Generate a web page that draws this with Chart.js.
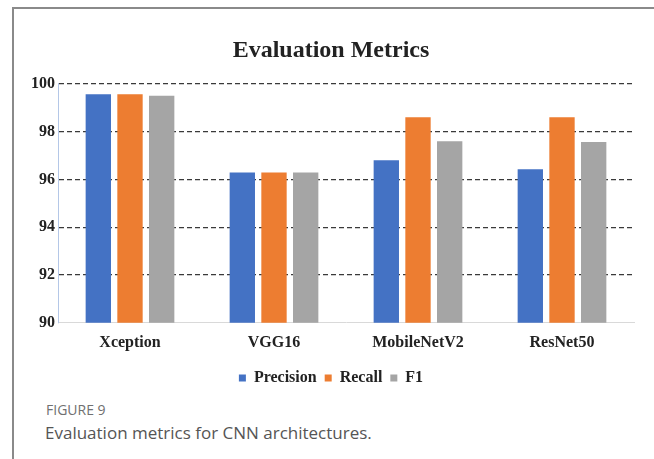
<!DOCTYPE html>
<html lang="en">
<head>
    <meta charset="UTF-8">
    <title>Evaluation Metrics</title>
    <script src="https://cdn.jsdelivr.net/npm/chart.js"></script>
    <style>
        body {
            margin: 0;
            padding: 0;
            background: #fff;
            width: 654px;
            height: 459px;
            overflow: hidden;
            position: relative;
        }
        .frame {
            position: absolute;
            left: 12px;
            top: 7px;
            width: 660px;
            height: 460px;
            border-left: 2px solid #8a8a8a;
            border-top: 2px solid #8a8a8a;
        }
        #metricsChart {
            position: absolute;
            left: 14px;
            top: 10px;
        }
        .fig-label {
            position: absolute;
            left: 46px;
            top: 403px;
            font-family: "Open Sans", sans-serif;
            font-size: 14px;
            line-height: 14px;
            color: #707070;
        }
        .fig-caption {
            position: absolute;
            left: 45px;
            top: 424px;
            font-family: "Open Sans", sans-serif;
            font-size: 17px;
            line-height: 17px;
            color: #555;
        }
    </style>
</head>
<body>
    <div class="frame"></div>
    <canvas id="metricsChart" width="640" height="386"></canvas>
    <div class="fig-label">FIGURE 9</div>
    <div class="fig-caption">Evaluation metrics for CNN architectures.</div>

    <script>
        const models = ['Xception', 'VGG16', 'MobileNetV2', 'ResNet50'];
        const precision = [99.56, 96.29, 96.8, 96.42];
        const recall = [99.56, 96.29, 98.6, 98.6];
        const f1 = [99.5, 96.29, 97.6, 97.56];

        const serif = "'Liberation Serif', 'Times New Roman', serif";

        const ctx = document.getElementById('metricsChart').getContext('2d');
        new Chart(ctx, {
            type: 'bar',
            data: {
                labels: models,
                datasets: [
                    { label: 'Precision', data: precision, backgroundColor: '#4472C4' },
                    { label: 'Recall', data: recall, backgroundColor: '#ED7D31' },
                    { label: 'F1', data: f1, backgroundColor: '#A5A5A5' }
                ]
            },
            options: {
                responsive: false,
                animation: false,
                categoryPercentage: 0.66,
                barPercentage: 0.8,
                layout: {
                    padding: { left: 14, right: 20, top: 0, bottom: 0 }
                },
                plugins: {
                    title: {
                        display: true,
                        text: 'Evaluation Metrics',
                        color: '#222',
                        font: { family: serif, size: 24, weight: 'bold' },
                        padding: { top: 26, bottom: 19 }
                    },
                    legend: {
                        position: 'bottom',
                        labels: {
                            boxWidth: 7,
                            boxHeight: 7,
                            padding: 8,
                            color: '#222',
                            font: { family: serif, size: 16, weight: 'bold' }
                        }
                    },
                    tooltip: { enabled: false }
                },
                scales: {
                    x: {
                        grid: { display: false, drawTicks: false },
                        border: { color: '#d9d9d9', width: 1 },
                        ticks: {
                            padding: 10,
                            color: '#222',
                            font: { family: serif, size: 16, weight: 'bold' }
                        }
                    },
                    y: {
                        min: 90,
                        max: 100,
                        ticks: {
                            stepSize: 2,
                            padding: 3,
                            color: '#222',
                            font: { family: serif, size: 16, weight: 'bold' }
                        },
                        grid: {
                            drawTicks: false,
                            lineWidth: 1.3,
                            color: c => c.tick && c.tick.value === 90 ? 'rgba(0,0,0,0)' : '#3a3a3a'
                        },
                        border: { color: '#b4c7e7', width: 1, dash: [5, 3] }
                    }
                }
            }
        });
    </script>
</body>
</html>
